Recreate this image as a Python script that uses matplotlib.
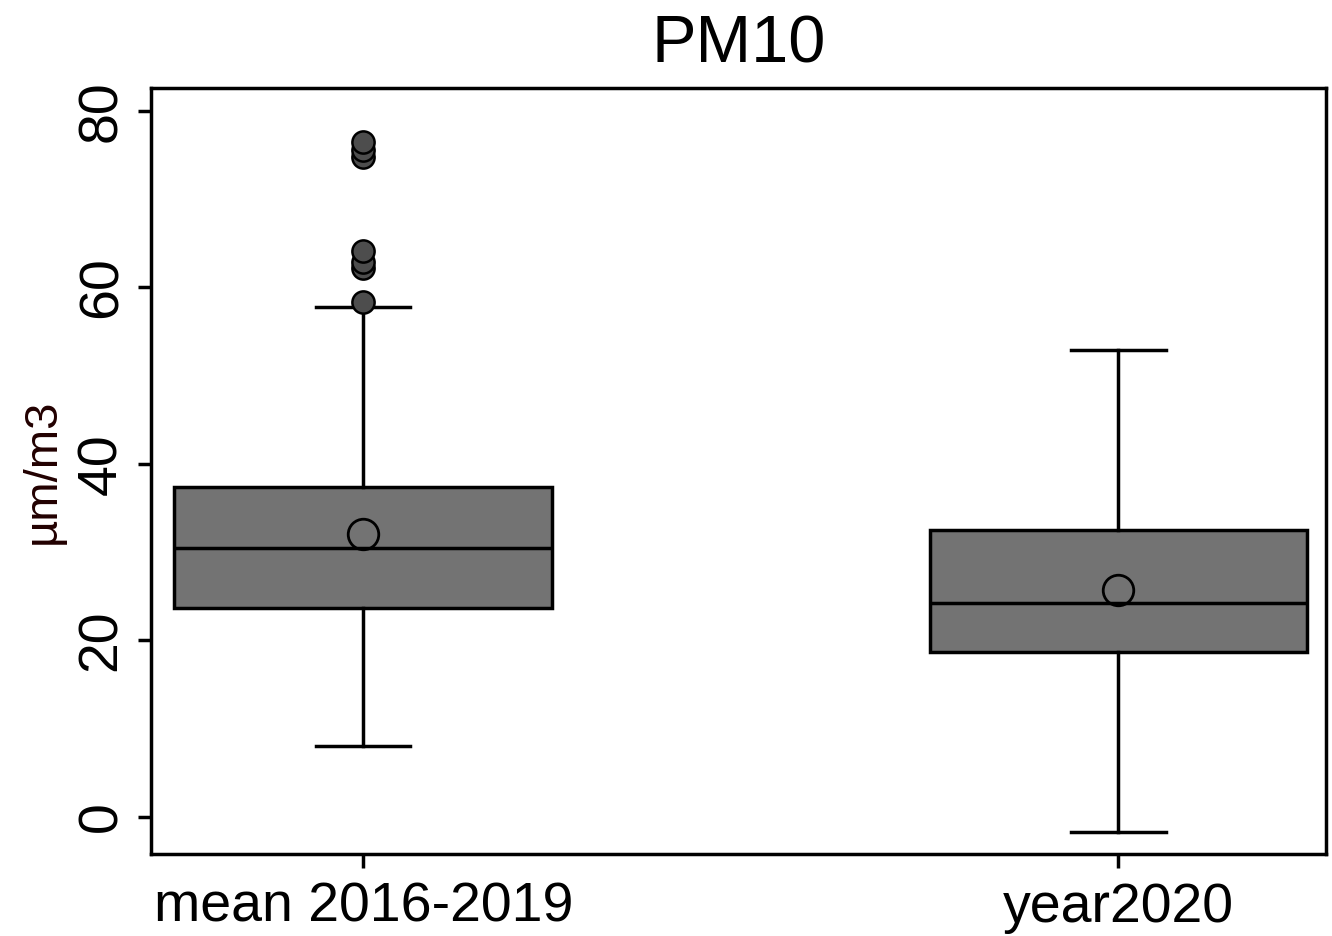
import matplotlib
matplotlib.use("Agg")
import matplotlib.pyplot as plt

plt.rcParams['font.family'] = ['Liberation Sans', 'DejaVu Sans']

# valores
groups = ["mean 2016-2019", "year2020"]
q1 = [23.7, 18.7]
medians = [30.5, 24.2]
q3 = [37.4, 32.5]
whisker_low = [8.0, -1.7]
whisker_high = [57.8, 52.9]
means = [32.1, 25.7]
outliers = [[58.4, 62.2, 62.9, 64.1, 74.8, 75.6, 76.5], []]

stats = []
for i in range(len(groups)):
    stats.append({
        "med": medians[i], "q1": q1[i], "q3": q3[i],
        "whislo": whisker_low[i], "whishi": whisker_high[i],
        "fliers": outliers[i], "label": groups[i],
    })

fig = plt.figure(figsize=(13.32, 9.36), dpi=100)
ax = fig.add_axes([0.1134, 0.0876, 0.8821, 0.8184])

lw = 2.5
ax.bxp(stats, positions=[1, 2], widths=0.5, capwidths=0.125,
       patch_artist=True, showfliers=True,
       boxprops=dict(facecolor="#737373", edgecolor="black", linewidth=lw),
       medianprops=dict(color="black", linewidth=lw),
       whiskerprops=dict(color="black", linewidth=lw),
       capprops=dict(color="black", linewidth=lw),
       flierprops=dict(marker="o", markerfacecolor="#4d4d4d",
                       markeredgecolor="black", markersize=16, markeredgewidth=1.8))

# médias como círculos abertos
ax.plot([1, 2], means, linestyle="none", marker="o", markersize=22,
        markerfacecolor="none", markeredgecolor="black", markeredgewidth=2)

ax.set_xlim(0.719, 2.275)
ax.set_ylim(-4.2, 82.6)
ax.set_yticks([0, 20, 40, 60, 80])
ax.set_xticks([1, 2])
ax.set_xticklabels(groups)

for s in ax.spines.values():
    s.set_linewidth(lw)

ax.tick_params(axis="y", direction="out", length=9.5, width=lw, labelsize=40,
               pad=7, labelrotation=90)
ax.tick_params(axis="x", direction="out", length=10, width=lw, labelsize=40, pad=10)
for t in ax.get_yticklabels():
    t.set_va("center")

ax.set_ylabel("µm/m3", fontsize=34, color="#220000", labelpad=8)
ax.set_title("PM10", fontsize=48, pad=18)

fig.savefig("out.png", dpi=100)
